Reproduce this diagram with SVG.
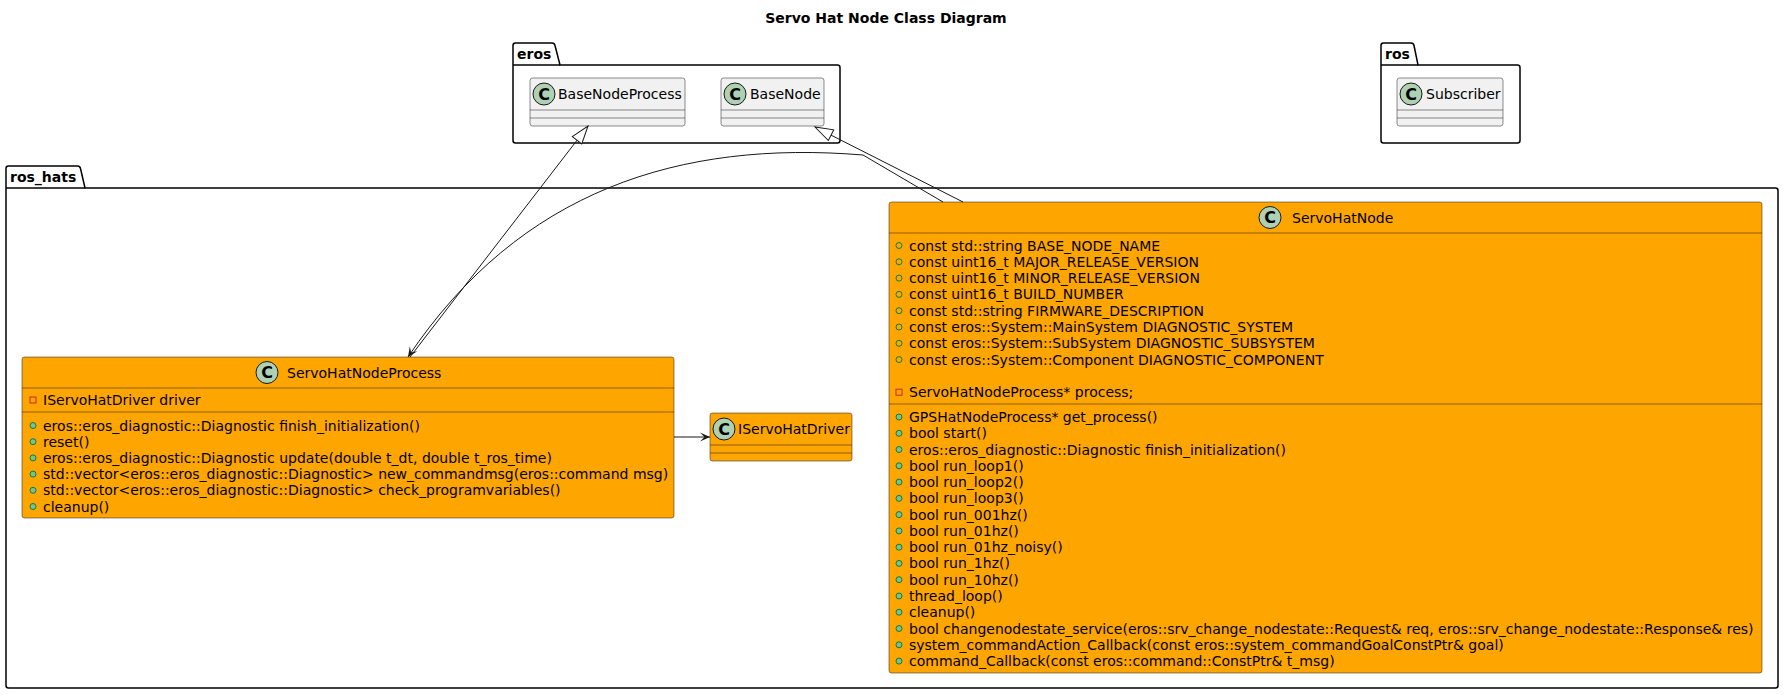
<svg xmlns="http://www.w3.org/2000/svg" width="1784" height="695" viewBox="0 0 1784 695">
<style>
.pkg{fill:#fff;stroke:#000;stroke-width:1.5}
.pl{fill:none;stroke:#000;stroke-width:1.5}
.cls{fill:#F1F1F1;stroke:#181818;stroke-width:0.5}
.ocls{fill:#FFA500;stroke:#181818;stroke-width:0.5}
.sep{stroke:#181818;stroke-width:0.5}
.ci{fill:#ADD1B2;stroke:#181818;stroke-width:1}
.cl{font-family:"DejaVu Sans",sans-serif;font-size:16px;font-weight:bold;text-anchor:middle;fill:#000}
.t{font-family:"DejaVu Sans",sans-serif;font-size:14px;fill:#000}
.b{font-weight:bold}
.pub{fill:none;stroke:#038048;stroke-width:1}
.pubm{fill:#84BE84;stroke:#038048;stroke-width:1}
.priv{fill:none;stroke:#C82930;stroke-width:1}
.edge{fill:none;stroke:#181818;stroke-width:1}
</style>
<defs>
<marker id="tri" markerUnits="userSpaceOnUse" markerWidth="20" markerHeight="14" refX="18" refY="6" orient="auto" overflow="visible"><path d="M0,0 L18,6 L0,12 Z" fill="#fff" stroke="#181818" stroke-width="1"/></marker>
<marker id="arr" markerUnits="userSpaceOnUse" markerWidth="12" markerHeight="12" refX="10" refY="5" orient="auto" overflow="visible"><path d="M0,0.5 L10,5 L0,9.5 L4.5,5 Z" fill="#181818"/></marker>
</defs>
<rect width="1784" height="695" fill="#fff"/>
<text class="t b" x="886" y="23" text-anchor="middle">Servo Hat Node Class Diagram</text>

<g id="pkg-eros">
<path class="pkg" d="M513,65 L513,45.5 Q513,43 515.5,43 L552,43 Q554.5,43 555,45.5 L560,65 L837.5,65 Q840,65 840,67.5 L840,140.5 Q840,143 837.5,143 L515.5,143 Q513,143 513,140.5 Z"/>
<path class="pl" d="M513,65 L560,65"/>
<text class="t b" x="517" y="59">eros</text>
</g>
<g id="pkg-ros">
<path class="pkg" d="M1381,65 L1381,45.5 Q1381,43 1383.5,43 L1411,43 Q1413.5,43 1414,45.5 L1418,65 L1517.5,65 Q1520,65 1520,67.5 L1520,140.5 Q1520,143 1517.5,143 L1383.5,143 Q1381,143 1381,140.5 Z"/>
<path class="pl" d="M1381,65 L1418,65"/>
<text class="t b" x="1385" y="59">ros</text>
</g>
<g id="pkg-ros_hats">
<path class="pkg" d="M6,188 L6,168.5 Q6,166 8.5,166 L77.5,166 Q80,166 80.5,168.5 L85,188 L1775.5,188 Q1778,188 1778,190.5 L1778,685.5 Q1778,688 1775.5,688 L8.5,688 Q6,688 6,685.5 Z"/>
<path class="pl" d="M6,188 L85,188"/>
<text class="t b" x="10" y="182">ros_hats</text>
</g>

<g id="BaseNodeProcess">
<rect class="cls" x="530" y="78" width="155" height="48" rx="2.5"/>
<circle class="ci" cx="544" cy="94" r="11"/>
<text class="cl" x="544" y="99.5">C</text>
<text class="t" x="558" y="99">BaseNodeProcess</text>
<line class="sep" x1="530" y1="110" x2="685" y2="110"/>
<line class="sep" x1="530" y1="118" x2="685" y2="118"/>
</g>
<g id="BaseNode">
<rect class="cls" x="721" y="78" width="103" height="48" rx="2.5"/>
<circle class="ci" cx="735" cy="94" r="11"/>
<text class="cl" x="735" y="99.5">C</text>
<text class="t" x="750" y="99">BaseNode</text>
<line class="sep" x1="721" y1="110" x2="824" y2="110"/>
<line class="sep" x1="721" y1="118" x2="824" y2="118"/>
</g>
<g id="Subscriber">
<rect class="cls" x="1397" y="78" width="106" height="48" rx="2.5"/>
<circle class="ci" cx="1411" cy="94" r="11"/>
<text class="cl" x="1411" y="99.5">C</text>
<text class="t" x="1426" y="99">Subscriber</text>
<line class="sep" x1="1397" y1="110" x2="1503" y2="110"/>
<line class="sep" x1="1397" y1="118" x2="1503" y2="118"/>
</g>

<g id="ServoHatNodeProcess">
<rect class="ocls" x="22" y="357" width="652" height="161" rx="2.5"/>
<circle class="ci" cx="267" cy="372.5" r="11"/>
<text class="cl" x="267" y="378">C</text>
<text class="t" x="287" y="377.5">ServoHatNodeProcess</text>
<line class="sep" x1="22" y1="388" x2="674" y2="388"/>
<rect class="priv" x="30" y="397" width="6" height="6"/>
<text class="t" x="43" y="405">IServoHatDriver driver</text>
<line class="sep" x1="22" y1="412" x2="674" y2="412"/>
<circle class="pubm" cx="33" cy="425.5" r="3"/>
<text class="t" x="43" y="430.5">eros::eros_diagnostic::Diagnostic finish_initialization()</text>
<circle class="pubm" cx="33" cy="441.7" r="3"/>
<text class="t" x="43" y="446.7">reset()</text>
<circle class="pubm" cx="33" cy="457.9" r="3"/>
<text class="t" x="43" y="462.9">eros::eros_diagnostic::Diagnostic update(double t_dt, double t_ros_time)</text>
<circle class="pubm" cx="33" cy="474.1" r="3"/>
<text class="t" x="43" y="479.1">std::vector&lt;eros::eros_diagnostic::Diagnostic&gt; new_commandmsg(eros::command msg)</text>
<circle class="pubm" cx="33" cy="490.3" r="3"/>
<text class="t" x="43" y="495.3">std::vector&lt;eros::eros_diagnostic::Diagnostic&gt; check_programvariables()</text>
<circle class="pubm" cx="33" cy="506.5" r="3"/>
<text class="t" x="43" y="511.5">cleanup()</text>
</g>

<g id="IServoHatDriver">
<rect class="ocls" x="710" y="413" width="142" height="48" rx="2.5"/>
<circle class="ci" cx="724" cy="429" r="11"/>
<text class="cl" x="724" y="434.5">C</text>
<text class="t" x="738" y="434">IServoHatDriver</text>
<line class="sep" x1="710" y1="445" x2="852" y2="445"/>
<line class="sep" x1="710" y1="453" x2="852" y2="453"/>
</g>

<g id="ServoHatNode">
<rect class="ocls" x="889" y="202" width="873" height="471" rx="2.5"/>
<circle class="ci" cx="1270" cy="217.5" r="11"/>
<text class="cl" x="1270" y="223">C</text>
<text class="t" x="1292" y="222.5">ServoHatNode</text>
<line class="sep" x1="889" y1="233" x2="1762" y2="233"/>
<circle class="pub" cx="899" cy="245.5" r="3"/>
<text class="t" x="909" y="250.5">const std::string BASE_NODE_NAME</text>
<circle class="pub" cx="899" cy="261.8" r="3"/>
<text class="t" x="909" y="266.8">const uint16_t MAJOR_RELEASE_VERSION</text>
<circle class="pub" cx="899" cy="278.1" r="3"/>
<text class="t" x="909" y="283.1">const uint16_t MINOR_RELEASE_VERSION</text>
<circle class="pub" cx="899" cy="294.4" r="3"/>
<text class="t" x="909" y="299.4">const uint16_t BUILD_NUMBER</text>
<circle class="pub" cx="899" cy="310.7" r="3"/>
<text class="t" x="909" y="315.7">const std::string FIRMWARE_DESCRIPTION</text>
<circle class="pub" cx="899" cy="327" r="3"/>
<text class="t" x="909" y="332">const eros::System::MainSystem DIAGNOSTIC_SYSTEM</text>
<circle class="pub" cx="899" cy="343.3" r="3"/>
<text class="t" x="909" y="348.3">const eros::System::SubSystem DIAGNOSTIC_SUBSYSTEM</text>
<circle class="pub" cx="899" cy="359.6" r="3"/>
<text class="t" x="909" y="364.6">const eros::System::Component DIAGNOSTIC_COMPONENT</text>
<rect class="priv" x="896" y="389.2" width="6" height="6"/>
<text class="t" x="909" y="397.2">ServoHatNodeProcess* process;</text>
<line class="sep" x1="889" y1="404" x2="1762" y2="404"/>
<circle class="pubm" cx="899" cy="417" r="3"/>
<text class="t" x="909" y="422">GPSHatNodeProcess* get_process()</text>
<circle class="pubm" cx="899" cy="433.3" r="3"/>
<text class="t" x="909" y="438.3">bool start()</text>
<circle class="pubm" cx="899" cy="449.5" r="3"/>
<text class="t" x="909" y="454.5">eros::eros_diagnostic::Diagnostic finish_initialization()</text>
<circle class="pubm" cx="899" cy="465.8" r="3"/>
<text class="t" x="909" y="470.8">bool run_loop1()</text>
<circle class="pubm" cx="899" cy="482.1" r="3"/>
<text class="t" x="909" y="487.1">bool run_loop2()</text>
<circle class="pubm" cx="899" cy="498.4" r="3"/>
<text class="t" x="909" y="503.4">bool run_loop3()</text>
<circle class="pubm" cx="899" cy="514.6" r="3"/>
<text class="t" x="909" y="519.6">bool run_001hz()</text>
<circle class="pubm" cx="899" cy="530.9" r="3"/>
<text class="t" x="909" y="535.9">bool run_01hz()</text>
<circle class="pubm" cx="899" cy="547.2" r="3"/>
<text class="t" x="909" y="552.2">bool run_01hz_noisy()</text>
<circle class="pubm" cx="899" cy="563.4" r="3"/>
<text class="t" x="909" y="568.4">bool run_1hz()</text>
<circle class="pubm" cx="899" cy="579.7" r="3"/>
<text class="t" x="909" y="584.7">bool run_10hz()</text>
<circle class="pubm" cx="899" cy="596" r="3"/>
<text class="t" x="909" y="601">thread_loop()</text>
<circle class="pubm" cx="899" cy="612.2" r="3"/>
<text class="t" x="909" y="617.2">cleanup()</text>
<circle class="pubm" cx="899" cy="628.5" r="3"/>
<text class="t" x="909" y="633.5">bool changenodestate_service(eros::srv_change_nodestate::Request&amp; req, eros::srv_change_nodestate::Response&amp; res)</text>
<circle class="pubm" cx="899" cy="644.8" r="3"/>
<text class="t" x="909" y="649.8">system_commandAction_Callback(const eros::system_commandGoalConstPtr&amp; goal)</text>
<circle class="pubm" cx="899" cy="661.1" r="3"/>
<text class="t" x="909" y="666.1">command_Callback(const eros::command::ConstPtr&amp; t_msg)</text>
</g>

<g id="connectors">
<path class="edge" d="M410,357 L588,126" marker-end="url(#tri)"/>
<path class="edge" d="M963,202 L815,127" marker-end="url(#tri)"/>
<path class="edge" d="M943,202 L863,155 C680,140 520,190 408,357" marker-end="url(#arr)"/>
<path class="edge" d="M674,437 L710,437" marker-end="url(#arr)"/>
</g>
</svg>
